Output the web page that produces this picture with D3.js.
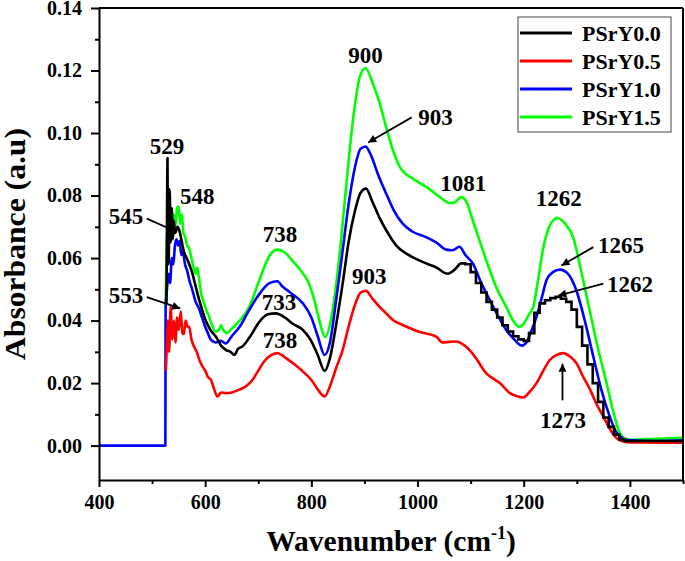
<!DOCTYPE html>
<html><head><meta charset="utf-8">
<script src="https://cdn.jsdelivr.net/npm/d3@7"></script>
<style>
body{margin:0;background:#fff}
text{font-family:"Liberation Serif","Times New Roman",serif;font-weight:bold;fill:#000}
</style>
</head><body>
<svg id="chart" width="685" height="561"></svg>
<script>
// ---------- data ----------
const seriesNames = ["PSrY0.0", "PSrY0.5", "PSrY1.0", "PSrY1.5"];
const seriesColors = ["#000000", "#ff0000", "#0000ff", "#00ff00"];

// PSrY0.0 (black), smooth/noisy part
const psry00 = [[527,0.045],[528,0.07],[529,0.092],[530,0.06],[531,0.058],[533,0.082],[535,0.065],[537,0.076],[539,0.066],[541,0.072],[543,0.068],[545,0.0685],[548,0.07],[551,0.069],[555,0.066],[560,0.062],[565,0.06],[570,0.058],[576,0.055],[582,0.051],[588,0.047],[595,0.043],[601,0.040],[610,0.037],[620,0.0349],[630,0.032],[640,0.0305],[648,0.030],[655,0.029],[662,0.031],[670,0.0317],[685,0.035],[702,0.0396],[718,0.042],[733,0.0423],[750,0.041],[765,0.039],[784,0.037],[798,0.034],[812,0.029],[825,0.0239],[835,0.028],[847,0.039],[859,0.0519],[870,0.065],[882,0.075],[893,0.081],[903,0.0822],[915,0.078],[928,0.073],[941,0.0689],[960,0.064],[979,0.0614],[1000,0.0595],[1016,0.0583],[1035,0.057],[1057,0.055],[1068,0.056],[1080,0.0583]];
// PSrY0.0 (black), staircase part
const psry00Steps = [[1080,0.0583],[1090,0.058],[1100,0.0555],[1110,0.052],[1120,0.049],[1130,0.046],[1140,0.0435],[1150,0.041],[1160,0.0385],[1170,0.0365],[1180,0.035],[1190,0.034],[1200,0.0335],[1210,0.036],[1220,0.0425],[1230,0.0455],[1240,0.0465],[1250,0.0472],[1260,0.0476],[1270,0.047],[1280,0.046],[1290,0.0435],[1300,0.038],[1310,0.032],[1320,0.026],[1330,0.020],[1340,0.014],[1350,0.009],[1360,0.006],[1370,0.0035],[1380,0.002],[1390,0.0015],[1500,0.0015]];
// PSrY0.5 (red)
const psry05 = [[526,0.024],[528,0.033],[530,0.040],[532,0.030],[535,0.0444],[538,0.034],[541,0.040],[544,0.033],[547,0.041],[550,0.037],[554,0.043],[557,0.036],[560,0.0357],[563,0.040],[567,0.038],[570,0.038],[574,0.034],[579,0.0317],[584,0.030],[590,0.027],[595,0.0253],[600,0.024],[605,0.022],[611,0.021],[617,0.018],[623,0.0157],[630,0.017],[639,0.0168],[650,0.017],[664,0.0179],[677,0.019],[689,0.021],[700,0.024],[711,0.0269],[725,0.029],[736,0.0296],[744,0.029],[752,0.028],[768,0.026],[784,0.0237],[800,0.021],[812,0.018],[825,0.0157],[835,0.019],[847,0.025],[859,0.0306],[870,0.038],[882,0.045],[893,0.049],[903,0.0495],[915,0.047],[928,0.0445],[941,0.0423],[955,0.040],[972,0.0386],[1003,0.0364],[1035,0.0349],[1047,0.033],[1060,0.0332],[1072,0.0333],[1091,0.0317],[1110,0.028],[1129,0.0232],[1142,0.0215],[1155,0.020],[1174,0.0168],[1188,0.0158],[1199,0.0154],[1210,0.017],[1224,0.020],[1237,0.024],[1249,0.0274],[1262,0.029],[1274,0.0296],[1287,0.0285],[1299,0.0264],[1312,0.022],[1325,0.0179],[1338,0.013],[1350,0.0093],[1360,0.006],[1369,0.0035],[1378,0.002],[1387,0.0014],[1400,0.001],[1500,0.0009]];
// PSrY1.0 (blue)
const psry10 = [[400,0],[525,0],[525.5,0.044],[528,0.05],[531,0.055],[534,0.052],[537,0.06],[540,0.058],[543,0.064],[546,0.066],[549,0.064],[552,0.0655],[555,0.061],[558,0.062],[562,0.058],[566,0.056],[570,0.053],[576,0.0497],[582,0.046],[588,0.044],[594,0.041],[600,0.038],[605,0.036],[611,0.0338],[620,0.033],[630,0.0335],[639,0.0327],[650,0.035],[665,0.038],[683,0.0434],[700,0.048],[721,0.052],[736,0.0526],[745,0.051],[760,0.049],[784,0.0455],[800,0.041],[812,0.035],[825,0.029],[835,0.033],[847,0.047],[859,0.0625],[870,0.077],[882,0.089],[893,0.095],[902,0.0957],[912,0.093],[925,0.087],[941,0.0806],[956,0.075],[972,0.071],[990,0.0685],[1016,0.0667],[1035,0.065],[1054,0.0627],[1066,0.0625],[1079,0.0636],[1090,0.061],[1104,0.0583],[1120,0.052],[1136,0.0466],[1150,0.042],[1167,0.037],[1182,0.034],[1196,0.032],[1205,0.033],[1215,0.037],[1224,0.0412],[1235,0.048],[1243,0.053],[1255,0.0555],[1268,0.0563],[1283,0.055],[1299,0.0497],[1315,0.040],[1331,0.0285],[1346,0.018],[1362,0.0093],[1372,0.005],[1381,0.003],[1395,0.0018],[1450,0.0015],[1500,0.0017]];
// PSrY1.5 (green)
const psry15 = [[525.5,0.044],[527,0.06],[530,0.071],[533,0.066],[535,0.073],[538,0.069],[541,0.074],[544,0.07],[547,0.076],[550,0.0765],[553,0.071],[556,0.074],[559,0.068],[562,0.067],[566,0.064],[570,0.063],[574,0.06],[578,0.057],[582,0.055],[585,0.057],[588,0.054],[592,0.049],[597,0.046],[603,0.043],[608,0.041],[614,0.038],[620,0.0365],[626,0.037],[630,0.0385],[634,0.037],[640,0.036],[651,0.0376],[665,0.040],[683,0.0444],[700,0.052],[711,0.057],[722,0.061],[736,0.0627],[750,0.0618],[765,0.059],[780,0.056],[795,0.052],[805,0.047],[815,0.040],[826,0.0347],[838,0.0412],[854,0.0625],[866,0.0838],[879,0.105],[891,0.1178],[902,0.1208],[916,0.1157],[928,0.110],[941,0.1018],[954,0.0944],[967,0.089],[992,0.0853],[1017,0.0827],[1042,0.0795],[1060,0.0776],[1070,0.0778],[1082,0.0795],[1092,0.078],[1104,0.0721],[1120,0.064],[1136,0.0561],[1150,0.050],[1167,0.0444],[1180,0.040],[1192,0.038],[1200,0.039],[1210,0.042],[1218,0.0444],[1227,0.053],[1236,0.0625],[1248,0.070],[1263,0.0728],[1278,0.071],[1293,0.0667],[1308,0.056],[1324,0.0434],[1340,0.031],[1356,0.020],[1370,0.010],[1381,0.004],[1392,0.0022],[1400,0.0019],[1450,0.0022],[1500,0.0025]];

const xMajorTicks = [400, 600, 800, 1000, 1200, 1400];
const xMinorTicks = [500, 700, 900, 1100, 1300, 1500];
const yMajorTicks = [0, 0.02, 0.04, 0.06, 0.08, 0.10, 0.12, 0.14];
const yMinorTicks = [0.01, 0.03, 0.05, 0.07, 0.09, 0.11, 0.13];

// peak labels: text, wavenumber, absorbance (text centre / baseline)
const peakLabels = [
  ["529", 528, 0.0934], ["548", 585, 0.0774], ["545", 451, 0.071], ["553", 451, 0.0455],
  ["738", 741, 0.065], ["733", 739, 0.0434], ["738", 741, 0.0311],
  ["900", 902, 0.1224], ["903", 1034, 0.1026], ["903", 909, 0.0516],
  ["1081", 1086, 0.0816], ["1262", 1266, 0.0768], ["1265", 1383, 0.0615],
  ["1262", 1400, 0.0492], ["1273", 1274, 0.0056]
];
// arrows: from (wn, abs) to (wn, abs)
const peakArrows = [
  [490, 0.0726, 545, 0.0685],
  [490, 0.0475, 553, 0.0439],
  [989, 0.1050, 907, 0.0970],
  [1331, 0.0635, 1271, 0.0576],
  [1350, 0.0518, 1265, 0.0480],
  [1273, 0.0145, 1273, 0.0262]
];

// ---------- chart ----------
const svg = d3.select("#chart");
const x = d3.scaleLinear().domain([400, 1500]).range([99, 683]);
const y = d3.scaleLinear().domain([-0.011, 0.14]).range([480, 8]);

svg.append("defs").append("marker")
  .attr("id", "arrow").attr("viewBox", "0 0 10 10")
  .attr("refX", 10).attr("refY", 5)
  .attr("markerWidth", 11).attr("markerHeight", 8)
  .attr("markerUnits", "userSpaceOnUse")
  .attr("orient", "auto")
  .append("path").attr("d", "M0,0 L10,5 L0,10 Z").attr("fill", "#000");

const plot = svg.append("g");
const lineSmooth = d3.line().x(d => x(d[0])).y(d => y(d[1])).curve(d3.curveMonotoneX);
const lineStep = d3.line().x(d => x(d[0])).y(d => y(d[1])).curve(d3.curveStepAfter);

const draw = (data, color, gen) => plot.append("path").datum(data)
  .attr("d", gen).attr("fill", "none").attr("stroke", color)
  .attr("stroke-width", 2.6).attr("stroke-linejoin", "round");

draw(psry15, seriesColors[3], lineSmooth);
draw(psry10, seriesColors[2], lineSmooth);
draw(psry05, seriesColors[1], lineSmooth);
draw(psry00, seriesColors[0], lineSmooth);
draw(psry00Steps, seriesColors[0], lineStep).attr("stroke-linejoin", "miter");

// frame (top / right)
svg.append("line").attr("x1", x(400)).attr("x2", x(1500)).attr("y1", y(0.14)).attr("y2", y(0.14))
  .attr("stroke", "#000").attr("stroke-width", 2);
svg.append("line").attr("x1", x(1500)).attr("x2", x(1500)).attr("y1", y(0.14)).attr("y2", y(-0.011))
  .attr("stroke", "#000").attr("stroke-width", 2);

// axes
svg.append("g").attr("transform", `translate(0,${y(-0.011)})`)
  .call(d3.axisBottom(x).tickValues(xMajorTicks).tickFormat(d3.format("d")).tickSizeInner(7).tickSizeOuter(0).tickPadding(8));
svg.append("g").attr("transform", `translate(0,${y(-0.011)})`)
  .call(d3.axisBottom(x).tickValues(xMinorTicks).tickFormat("").tickSizeInner(4).tickSizeOuter(0))
  .select(".domain").remove();
svg.append("g").attr("transform", `translate(${x(400)},0)`)
  .call(d3.axisLeft(y).tickValues(yMajorTicks).tickFormat(d3.format(".2f")).tickSizeInner(8).tickSizeOuter(0).tickPadding(9));
svg.append("g").attr("transform", `translate(${x(400)},0)`)
  .call(d3.axisLeft(y).tickValues(yMinorTicks).tickFormat("").tickSizeInner(4).tickSizeOuter(0))
  .select(".domain").remove();
svg.selectAll(".domain").attr("stroke-width", 2);
svg.selectAll(".tick line").attr("stroke-width", 2);
svg.selectAll(".tick text").attr("font-size", 20).attr("font-family", null).attr("font-weight", "bold");

// axis titles
svg.append("text").attr("x", 391).attr("y", 551).attr("text-anchor", "middle")
  .attr("font-size", 29.5)
  .call(t => {
    t.append("tspan").text("Wavenumber (cm");
    t.append("tspan").attr("font-size", 18).attr("dy", -12).text("-1");
    t.append("tspan").attr("dy", 12).text(")");
  });
svg.append("text").attr("transform", "translate(25,244) rotate(-90)")
  .attr("text-anchor", "middle").attr("font-size", 29)
  .attr("textLength", 232).attr("lengthAdjust", "spacingAndGlyphs")
  .text("Absorbance (a.u)");

// annotations
svg.append("g").selectAll("text").data(peakLabels).join("text")
  .attr("x", d => x(d[1])).attr("y", d => y(d[2]))
  .attr("text-anchor", "middle").attr("font-size", 23)
  .text(d => d[0]);
svg.append("g").selectAll("line").data(peakArrows).join("line")
  .attr("x1", d => x(d[0])).attr("y1", d => y(d[1]))
  .attr("x2", d => x(d[2])).attr("y2", d => y(d[3]))
  .attr("stroke", "#000").attr("stroke-width", 1.8)
  .attr("marker-end", "url(#arrow)");

// legend
const lg = svg.append("g").attr("transform", "translate(518,17)");
lg.append("rect").attr("width", 153).attr("height", 115)
  .attr("fill", "#fff").attr("stroke", "#444").attr("stroke-width", 1);
seriesNames.forEach((name, i) => {
  const cy = 16 + i * 28;
  lg.append("line").attr("x1", 2).attr("x2", 54).attr("y1", cy).attr("y2", cy)
    .attr("stroke", seriesColors[i]).attr("stroke-width", 3);
  lg.append("text").attr("x", 64).attr("y", cy + 8).attr("font-size", 22).text(name);
});
</script>
</body></html>
